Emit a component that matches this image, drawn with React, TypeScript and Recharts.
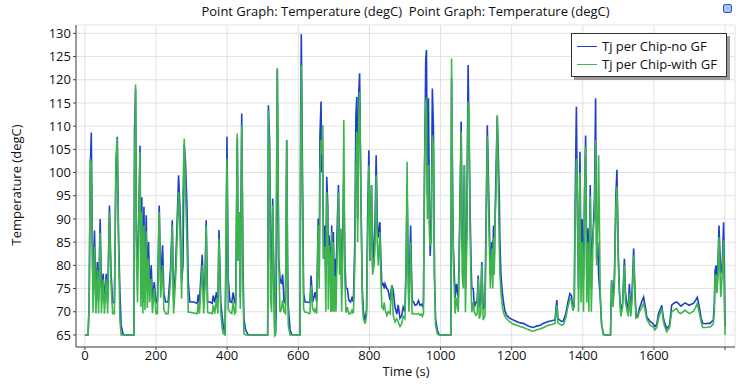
import { LineChart, Line, XAxis, YAxis, CartesianGrid, Legend, Label } from "recharts";

// time axis (s), shared by both series
const timeS = [
  0, 9, 12, 15, 18, 20.5, 23, 27, 31, 35,
  38.5, 43, 46.5, 51.5, 55, 60, 64, 69, 73.5, 78,
  83, 87, 91, 94.5, 98.5, 102, 107, 110, 138, 139.5,
  142.5, 145, 148, 151, 155, 157.5, 160, 163, 166, 169,
  172.5, 175.5, 179, 182, 186.5, 190, 195, 200, 204, 209,
  213, 218.5, 222, 227, 234, 241, 245.7, 249.4, 255, 259,
  263.5, 267, 272, 275.7, 279.4, 283, 287, 290.7, 295, 306.6,
  316, 319, 322, 330, 334, 338, 341, 345, 352, 358,
  361, 365, 370, 374, 377, 382, 386, 389, 394, 397,
  399.5, 403, 408, 413, 417, 421, 424, 428.5, 431, 434,
  437, 441, 444.5, 447, 452, 459.5, 514, 516, 519.5, 522,
  525, 528, 531, 533.6, 536, 538, 541, 545, 548.6, 553,
  556, 560, 564, 567.5, 570, 572, 577, 582, 605, 606.5,
  608.5, 611.5, 615, 619, 624, 630, 633, 636, 640.5, 645,
  647, 652, 656, 659, 661, 664, 666, 668, 671, 675,
  677.5, 680, 683, 684.5, 686.5, 689, 691.5, 694, 696, 698.6,
  701, 703, 706, 710, 713, 716, 719, 722, 725, 728,
  731, 734, 738, 742, 747, 751, 755, 759, 762, 764.5,
  767, 770, 772.5, 776, 780, 783, 788, 792, 795, 798.5,
  802, 806, 809, 813, 816, 819, 822, 825, 829.5, 832,
  835, 839, 842, 844, 849, 853, 858, 863, 867, 872,
  877, 881, 886, 891, 895, 900, 903, 906, 909, 911,
  913, 916, 920, 925, 928, 933, 938, 942, 946, 949,
  952, 955, 958.5, 960.5, 963, 966, 969, 971, 974, 977,
  980, 983, 986, 991, 995, 1000, 1029, 1031, 1034, 1036,
  1041, 1045, 1050, 1054, 1058, 1061, 1064, 1067, 1070, 1074,
  1077.5, 1080, 1083, 1086, 1088, 1092, 1095, 1100, 1103, 1106,
  1109, 1113, 1116, 1120, 1125, 1128, 1131.5, 1136, 1140, 1144,
  1147, 1149, 1151, 1153, 1156, 1159.5, 1162, 1165, 1167, 1170,
  1174, 1177, 1181, 1186, 1195, 1205, 1214, 1224, 1233, 1245,
  1255, 1261, 1270, 1280, 1290, 1303, 1315, 1322, 1325, 1327,
  1330, 1340, 1345, 1352, 1358, 1364, 1368, 1372, 1376, 1378,
  1382, 1385, 1388, 1392, 1395, 1398, 1402, 1405, 1408, 1411,
  1414, 1417, 1421, 1424, 1427, 1430, 1433, 1436, 1439, 1442,
  1444.5, 1449, 1453, 1458, 1463, 1478, 1481, 1485, 1489, 1493,
  1496, 1500, 1503, 1507, 1512, 1517, 1520, 1524, 1528, 1531,
  1535, 1539, 1543, 1547, 1550, 1555, 1559, 1565, 1571, 1576,
  1580, 1589, 1597, 1603, 1608, 1613, 1618, 1622, 1626, 1629,
  1636, 1644, 1650, 1657, 1664, 1670, 1676, 1682, 1688, 1694,
  1700, 1705, 1711, 1717, 1722, 1728, 1733, 1737, 1745, 1752,
  1758, 1764, 1767, 1770, 1772, 1775, 1777, 1780, 1783, 1786,
  1788, 1792, 1796, 1798, 1800,
];

// Tj per Chip-no GF (degC)
const tjNoGF = [
  65, 65, 72, 100, 108.6, 87, 74, 87.5, 72, 80.7,
  72.5, 90, 75, 78.2, 71.8, 78.2, 72, 92.9, 78.6, 72,
  72, 98, 107.7, 87, 74.2, 67, 65.3, 65, 65, 108.8,
  118, 85.8, 80, 88.6, 105.8, 75, 94.7, 72, 92.6, 73,
  90.8, 74.5, 85, 75, 80, 72.5, 76.4, 72, 72.5, 92.9,
  76.4, 84.3, 74, 72.1, 72.1, 79.3, 89.7, 72.1, 79.3, 88.6,
  99.4, 92.9, 76.4, 80, 106, 102, 92.9, 76.4, 72.1, 72.1,
  71.8, 73.7, 72.1, 82.3, 72.1, 78, 89.7, 72.1, 72.1, 71.8,
  73.5, 72, 74.2, 72, 87.6, 72.1, 69, 67, 65, 80,
  107.7, 77.1, 72.1, 72, 74.2, 72, 71.8, 107.5, 81, 91.5,
  73, 112.7, 81, 68.5, 66, 65, 65, 114.5, 106.6, 81.4,
  79, 94.4, 80, 67, 65.3, 70, 122.4, 81.4, 77.1, 76,
  78, 72.1, 71.8, 107, 80, 71, 66, 65.1, 65, 110,
  129.8, 103, 74, 72.1, 72.1, 72, 72.1, 77.8, 72.1, 73.5,
  74.2, 72.1, 90.1, 80, 108, 115.3, 100, 110.2, 81.4, 88.6,
  76, 99.1, 92.9, 80, 86.5, 83, 76, 88.6, 78, 87.2,
  76, 81.4, 77, 90, 97.3, 83, 87.9, 75, 88, 99,
  81, 75, 75, 72.5, 72.1, 73, 72.1, 85, 112, 116.3,
  90, 117, 121.4, 95.8, 75, 70, 68, 70.5, 90, 104.8,
  81, 97.3, 79.6, 85, 90, 103.7, 90, 86, 89.3, 82,
  75.7, 76, 75, 76, 75, 74.5, 72.5, 75.7, 74.6, 71,
  69.5, 71.5, 68.6, 69.2, 71, 70, 80, 96.5, 80, 74,
  79, 88.6, 72.5, 72, 71.4, 71.5, 72.4, 71.4, 71.6, 71.2,
  72, 100, 124.5, 126.4, 95, 116, 90, 82, 90, 118.1,
  110, 77.8, 68.5, 66, 65.2, 65, 65, 120.3, 95, 84,
  73, 76, 72.8, 90, 111, 84, 80, 101.6, 75, 90,
  123.2, 110, 92.2, 80, 75, 75, 71, 72.1, 72, 77.8,
  71, 72, 80.7, 70.5, 71.5, 90, 110.2, 93.7, 77.8, 85,
  80, 88.6, 80, 89.3, 100, 112, 105, 95.8, 85, 77.8,
  74, 72.1, 70.2, 69.2, 68.6, 68.2, 67.9, 67.6, 67.5, 67,
  66.7, 66.6, 66.9, 67.1, 67.5, 67.9, 68.1, 68.2, 71, 72.5,
  68.5, 67.9, 68, 69.5, 72, 73.9, 73.5, 71, 72, 90,
  114.2, 90, 75, 104.5, 80, 90, 77, 95, 108, 79,
  88, 76, 97.3, 75, 85, 88.6, 95, 116, 81.4, 85,
  78, 73, 67.1, 65.2, 65, 65, 76.8, 72, 78, 95,
  100.6, 82, 74.6, 69.6, 72, 81.4, 74, 71.8, 70, 76,
  69.8, 75, 83.6, 74, 68.9, 69.3, 70.7, 72, 73.2, 71,
  68.9, 67.9, 67.5, 66.8, 67.3, 69.6, 70.5, 71.4, 69, 67.9,
  66.4, 67.1, 71.4, 71.9, 72.1, 71.7, 71.2, 71.6, 71.9, 71.6,
  71.4, 71.6, 71.8, 72.4, 73.1, 70.9, 68.5, 67.5, 67.4, 67.5,
  67.5, 68, 68.2, 72, 78.9, 80, 76.8, 80, 88.6, 82,
  78.2, 80, 89.3, 80, 66.8,
];

// Tj per Chip-with GF (degC)
const tjWithGF = [
  65, 65, 71, 103, 102, 85, 69.8, 84, 69.6, 79,
  69.6, 87, 69.7, 77, 69.6, 77, 69.6, 91.5, 76, 69.6,
  69.6, 103, 107.4, 85, 68, 65, 65, 65, 65, 100,
  119, 81.5, 72, 87, 104.5, 71, 91.5, 69.6, 88.6, 70.4,
  87.3, 70.8, 81.4, 72, 77.1, 69.7, 75, 69.6, 69.6, 91.5,
  73, 80, 70.5, 69.6, 69.6, 77.1, 88.6, 69.6, 77.1, 85,
  95.8, 88.6, 72.8, 95.8, 107.3, 95.8, 85, 69.9, 69.9, 69.7,
  69.6, 72.1, 69.6, 80, 69.6, 76, 88.6, 69.9, 69.7, 69.6,
  71.4, 69.6, 72.8, 69.6, 85.8, 69.9, 66.5, 65.3, 65, 89.4,
  103, 70.6, 69.9, 69.6, 72.1, 69.6, 69.9, 108.4, 81, 91.5,
  70.6, 110.2, 75.7, 65.3, 65, 65, 65, 113.5, 100, 73,
  69.9, 93, 75, 64.8, 65, 90, 122.4, 81.4, 69.9, 70.6,
  72.5, 70, 69.6, 107, 75, 67, 65, 65, 65, 100,
  123.2, 95.8, 70.6, 69.9, 69.9, 69.6, 69.7, 75.7, 70.6, 70,
  70.6, 69.6, 88.6, 75, 100, 107, 104, 110.2, 81.4, 84,
  70, 95.8, 88.6, 70.5, 84.3, 81.4, 70, 87.2, 70, 85,
  70, 77.8, 70, 85, 95.8, 78, 87.9, 70, 82, 111.3,
  77, 69.8, 71, 69.6, 69.6, 70.3, 69.6, 80, 100, 108.8,
  85, 112, 117.4, 95.8, 72, 68.5, 67.4, 69.2, 85, 101.5,
  81, 97.3, 78, 80, 84, 99.4, 85, 80, 87.2, 78,
  71, 70.6, 72, 70.5, 69.2, 70, 69.6, 75.7, 69.2, 67.8,
  68.5, 67.8, 66.8, 67.4, 69, 68.5, 78, 102.3, 76, 70,
  75, 85, 69.6, 69.6, 69.5, 69.5, 69.6, 69.3, 69.5, 69,
  69.6, 101.6, 115, 116, 90, 101.6, 86, 84.3, 85, 108,
  105, 77.8, 67.1, 65.3, 65, 65, 65, 124.6, 96, 81,
  69.6, 73, 69.9, 87, 108.8, 78, 75, 101.6, 69.9, 85,
  115.3, 113.8, 88, 75, 69.9, 72, 69.9, 69.2, 69.6, 77.1,
  68.5, 69.5, 80, 68.2, 69.2, 85, 108, 88.6, 75, 83.6,
  75, 86, 78, 89, 95, 112.4, 100, 85, 78, 74.2,
  71, 69.9, 69, 68.5, 67.8, 67.3, 67.1, 66.8, 66.6, 66.2,
  65.9, 65.8, 66.1, 66.3, 66.6, 67.1, 67.3, 67.5, 70, 71.4,
  67.6, 67.1, 67.2, 68.6, 71, 72.9, 72.5, 70.2, 71, 88,
  103, 95, 70, 100, 72, 85, 70, 95, 105.6, 72,
  85, 70, 95, 70, 80, 88.6, 90, 107, 80, 88,
  103.7, 74.2, 67.1, 65, 65, 65, 76.8, 71, 76, 92,
  97, 80, 74, 69, 71, 80, 72, 70.5, 69, 74,
  69, 73, 82.1, 72.5, 68.6, 68.8, 70, 70.8, 71.8, 70,
  68.4, 67.1, 66.8, 66.1, 66.6, 68.6, 69.8, 70.7, 68.2, 67.1,
  65.7, 66.6, 70, 70.4, 70.7, 69.8, 69.6, 70, 70.3, 69.9,
  69.6, 69.8, 70.1, 70.9, 71.8, 69.6, 67.7, 66.6, 66.6, 66.7,
  66.7, 67.1, 67.4, 70, 77.5, 78, 74, 77, 86.1, 78,
  73.2, 78, 85.4, 72, 65,
];

const xTicks = [0, 200, 400, 600, 800, 1000, 1200, 1400, 1600, 1800];
const yTicks = [65, 70, 75, 80, 85, 90, 95, 100, 105, 110, 115, 120, 125, 130];

const title = "Point Graph: Temperature (degC)  Point Graph: Temperature (degC)";
const FONT = "'Open Sans', 'Noto Sans', sans-serif";
const BLUE = "#1e3fc8";
const GREEN = "#3cb54a";

const data = timeS.map((t, i) => ({ t, noGF: tjNoGF[i], withGF: tjWithGF[i] }));

function LegendBox(props: any) {
  const items = props.payload || [];
  return (
    <div
      style={{
        boxSizing: "border-box",
        width: 156,
        height: 44,
        background: "#fff",
        border: "1px solid #333",
        boxShadow: "3px 3px 0 #9a9a9a",
        padding: "3px 4px 3px 5px",
        fontSize: 13,
        lineHeight: "18px",
        color: "#111",
        fontFamily: FONT,
      }}
    >
      {items.map((it: any) => (
        <div key={it.value} style={{ display: "flex", alignItems: "center", whiteSpace: "nowrap" }}>
          <span style={{ display: "inline-block", width: 20, borderTop: `1.5px solid ${it.color}`, marginRight: 5 }} />
          {it.value}
        </div>
      ))}
    </div>
  );
}

export default function App() {
  return (
    <div style={{ position: "absolute", left: 0, top: 0, width: 752, height: 387, background: "#fff", fontFamily: FONT }}>
      <div
        style={{
          position: "absolute",
          left: 76,
          top: 2,
          width: 659,
          textAlign: "center",
          fontSize: 13,
          color: "#111",
          whiteSpace: "pre",
        }}
      >
        {title}
      </div>
      <div
        style={{
          position: "absolute",
          left: 723,
          top: 4,
          width: 7,
          height: 7,
          border: "1px solid #2a52c9",
          borderRadius: 2,
          background: "#a9c4f0",
        }}
      />
      <LineChart width={752} height={387} data={data} margin={{ top: 25, right: 17, bottom: 10, left: 0 }}>
        <CartesianGrid stroke="#e2e2e2" />
        <XAxis
          dataKey="t"
          type="number"
          domain={[-25, 1828]}
          ticks={xTicks}
          interval={0}
          allowDataOverflow
          height={30}
          tickSize={3}
          tickMargin={1}
          stroke="#444"
          tick={{ fill: "#111", fontSize: 13 }}
          tickFormatter={(v: number) => (v === 1800 ? "" : String(v))}
        >
          <Label
            content={() => (
              <text x={406} y={371} textAnchor="middle" dominantBaseline="central" fontSize={13} fill="#111">
                Time (s)
              </text>
            )}
          />
        </XAxis>
        <XAxis
          xAxisId="top"
          orientation="top"
          type="number"
          domain={[-25, 1828]}
          ticks={xTicks}
          interval={0}
          height={0}
          mirror
          tick={false}
          tickSize={3}
          stroke="#444"
        />
        <YAxis
          type="number"
          domain={[62.4, 131.8]}
          ticks={yTicks}
          interval={0}
          allowDataOverflow
          width={76}
          tickSize={3}
          tickMargin={2}
          stroke="#444"
          tick={{ fill: "#111", fontSize: 13 }}
        >
          <Label
            content={() => (
              <text
                x={16}
                y={185}
                transform="rotate(-90 16 185)"
                textAnchor="middle"
                dominantBaseline="central"
                fontSize={13}
                fill="#111"
              >
                Temperature (degC)
              </text>
            )}
          />
        </YAxis>
        <YAxis
          yAxisId="right"
          orientation="right"
          type="number"
          domain={[62.4, 131.8]}
          ticks={yTicks}
          interval={0}
          width={0}
          mirror
          tick={false}
          tickSize={4}
          stroke="#444"
        />
        <Legend
          layout="vertical"
          align="center"
          verticalAlign="middle"
          wrapperStyle={{ left: 571, top: 33, width: 156, height: 44 }}
          content={(p: any) => <LegendBox {...p} />}
        />
        <Line
          type="linear"
          dataKey="noGF"
          name="Tj per Chip-no GF"
          stroke={BLUE}
          strokeWidth={1.6}
          dot={false}
          activeDot={false}
          isAnimationActive={false}
        />
        <Line
          type="linear"
          dataKey="withGF"
          name="Tj per Chip-with GF"
          stroke={GREEN}
          strokeWidth={1.6}
          dot={false}
          activeDot={false}
          isAnimationActive={false}
        />
      </LineChart>
    </div>
  );
}
